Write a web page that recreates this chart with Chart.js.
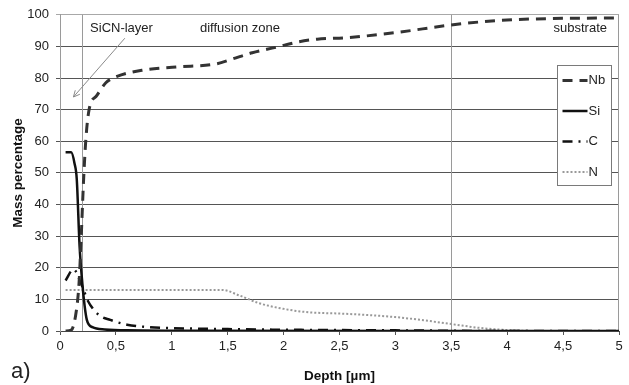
<!DOCTYPE html>
<html>
<head>
<meta charset="utf-8">
<script src="https://cdn.jsdelivr.net/npm/chart.js@4/dist/chart.umd.min.js"></script>
<style>
  body { margin: 0; background: #fff; }
  canvas { display: block; }
</style>
</head>
<body>
<canvas id="depth-chart" width="629" height="385"></canvas>
<script>
// depth profile: depth in µm, mass percentage
const nbDepth = [0.05, 0.1, 0.14, 0.17, 0.19, 0.21, 0.23, 0.26, 0.33, 0.41, 0.51, 0.74, 1.04, 1.4, 1.54, 1.72, 1.93, 2.14, 2.3, 2.58, 3.03, 3.48, 3.92, 4.37, 5];
const nbMass  = [0, 0.3, 5, 15, 30, 47, 60, 70, 74.5, 78.5, 80.5, 82.5, 83.5, 84.5, 86, 88, 89.7, 91.5, 92.3, 92.8, 94.5, 96.7, 98.2, 98.8, 99];

const siDepth = [0.05, 0.1, 0.13, 0.15, 0.175, 0.2, 0.22, 0.24, 0.29, 0.4, 0.6, 1, 5];
const siMass  = [56.5, 56.5, 53, 48, 27, 15, 8, 3.5, 1.2, 0.5, 0.2, 0.1, 0];

const cDepth = [0.05, 0.12, 0.2, 0.25, 0.35, 0.45, 0.6, 0.8, 1.0, 1.5, 2, 3, 4, 5];
const cMass  = [16, 19.5, 14, 9.5, 5, 3.5, 2, 1.2, 0.9, 0.6, 0.4, 0.2, 0, 0];

const nDepth = [0.05, 1.45, 1.6, 1.78, 2.0, 2.2, 2.58, 3.0, 3.25, 3.5, 3.75, 4.0, 4.3, 5];
const nMass  = [13, 13, 11.3, 8.8, 7, 6, 5.4, 4.4, 3.4, 2.2, 1, 0.3, 0, 0];

const seriesNames = ['Nb', 'Si', 'C', 'N'];
const zoneBounds = [0.2, 3.5];
const zoneNames = ['SiCN-layer', 'diffusion zone', 'substrate'];

function toPoints(xs, ys) {
    return xs.map((x, i) => ({ x: x, y: ys[i] }));
}

Chart.defaults.font.family = "'Liberation Sans', Arial, sans-serif";
Chart.defaults.color = '#222';

// vertical zone lines, frame, labels, arrow and the boxed legend
const annotations = {
    id: 'annotations',
    beforeDatasetsDraw(chart) {
        const { ctx, chartArea, scales: { x } } = chart;
        ctx.save();
        ctx.strokeStyle = '#9a9a9a';
        ctx.lineWidth = 1;
        zoneBounds.forEach(v => {
            const px = Math.round(x.getPixelForValue(v)) + 0.5;
            ctx.beginPath();
            ctx.moveTo(px, chartArea.top);
            ctx.lineTo(px, chartArea.bottom);
            ctx.stroke();
        });
        const rx = Math.round(chartArea.right) - 0.5;
        ctx.beginPath();
        ctx.moveTo(rx, chartArea.top);
        ctx.lineTo(rx, chartArea.bottom);
        ctx.stroke();
        ctx.restore();
    },
    afterDraw(chart) {
        const { ctx, chartArea, scales: { x, y } } = chart;
        ctx.save();

        // zone names
        ctx.font = "13px 'Liberation Sans', Arial, sans-serif";
        ctx.fillStyle = '#222';
        ctx.textBaseline = 'middle';
        ctx.textAlign = 'center';
        ctx.fillText(zoneNames[0], x.getPixelForValue(0.55), y.getPixelForValue(95.7));
        ctx.fillText(zoneNames[1], x.getPixelForValue(1.61), y.getPixelForValue(95.7));
        ctx.textAlign = 'right';
        ctx.fillText(zoneNames[2], chartArea.right - 12, y.getPixelForValue(95.7));

        // arrow pointing to the layer
        const x1 = x.getPixelForValue(0.58), y1 = y.getPixelForValue(92.6);
        const x2 = x.getPixelForValue(0.12), y2 = y.getPixelForValue(74);
        ctx.strokeStyle = '#8a8a8a';
        ctx.lineWidth = 1;
        ctx.beginPath();
        ctx.moveTo(x1, y1);
        ctx.lineTo(x2, y2);
        const ang = Math.atan2(y2 - y1, x2 - x1);
        ctx.moveTo(x2 - 7 * Math.cos(ang - 0.45), y2 - 7 * Math.sin(ang - 0.45));
        ctx.lineTo(x2, y2);
        ctx.lineTo(x2 - 7 * Math.cos(ang + 0.45), y2 - 7 * Math.sin(ang + 0.45));
        ctx.stroke();

        // legend box
        const bx = Math.round(chartArea.right) - 61.5;
        const by = Math.round(chartArea.top) + 50.5;
        ctx.fillStyle = '#fff';
        ctx.fillRect(bx, by, 54, 120);
        ctx.strokeStyle = '#7a7a7a';
        ctx.strokeRect(bx, by, 54, 120);
        ctx.font = "13px 'Liberation Sans', Arial, sans-serif";
        ctx.textAlign = 'left';
        chart.data.datasets.forEach((ds, i) => {
            const ly = by + 15 + i * 30.5;
            ctx.save();
            ctx.strokeStyle = ds.borderColor;
            ctx.lineWidth = ds.borderWidth;
            ctx.setLineDash(ds.borderDash || []);
            ctx.beginPath();
            ctx.moveTo(bx + 5, ly);
            ctx.lineTo(bx + 30, ly);
            ctx.stroke();
            ctx.restore();
            ctx.fillStyle = '#222';
            ctx.fillText(ds.label, bx + 31, ly);
        });

        // panel letter
        ctx.font = "22px 'Liberation Sans', Arial, sans-serif";
        ctx.textBaseline = 'alphabetic';
        ctx.fillText('a)', 11, 378);
        ctx.restore();
    }
};

new Chart(document.getElementById('depth-chart'), {
    type: 'line',
    data: {
        datasets: [
            {
                label: seriesNames[0],
                data: toPoints(nbDepth, nbMass),
                borderColor: '#333',
                borderWidth: 3,
                borderDash: [10, 7]
            },
            {
                label: seriesNames[1],
                data: toPoints(siDepth, siMass),
                borderColor: '#111',
                borderWidth: 2.5
            },
            {
                label: seriesNames[2],
                data: toPoints(cDepth, cMass),
                borderColor: '#111',
                borderWidth: 2.5,
                borderDash: [10, 6, 2, 6]
            },
            {
                label: seriesNames[3],
                data: toPoints(nDepth, nMass),
                borderColor: '#999',
                borderWidth: 2,
                borderDash: [2, 2]
            }
        ]
    },
    options: {
        responsive: false,
        animation: false,
        cubicInterpolationMode: 'monotone',
        elements: { point: { radius: 0 } },
        layout: { padding: { top: 14, right: 10, left: 0, bottom: 0 } },
        plugins: {
            legend: { display: false },
            tooltip: { enabled: false }
        },
        scales: {
            x: {
                type: 'linear',
                min: 0,
                max: 5,
                afterFit: scale => { scale.height = 54; },
                ticks: {
                    stepSize: 0.5,
                    padding: 4,
                    font: { size: 13 },
                    color: '#222',
                    callback: v => String(v).replace('.', ',')
                },
                grid: { drawOnChartArea: false, tickLength: 4, color: '#555' },
                border: { color: '#444' },
                title: {
                    display: true,
                    text: 'Depth [µm]',
                    font: { size: 13.5, weight: 'bold' },
                    color: '#111',
                    padding: { top: 0, bottom: 1 }
                }
            },
            y: {
                min: 0,
                max: 100,
                afterFit: scale => { scale.width = 60; },
                ticks: { stepSize: 10, padding: 7, font: { size: 13 }, color: '#222' },
                grid: {
                    tickLength: 4,
                    color: ctx => ctx.tick.value === 100 ? '#a8a8a8' : '#555'
                },
                border: { color: '#9a9a9a' },
                title: {
                    display: true,
                    text: 'Mass percentage',
                    font: { size: 13.5, weight: 'bold' },
                    color: '#111',
                    padding: { top: 10, bottom: 0 }
                }
            }
        }
    },
    plugins: [annotations]
});
</script>
</body>
</html>
